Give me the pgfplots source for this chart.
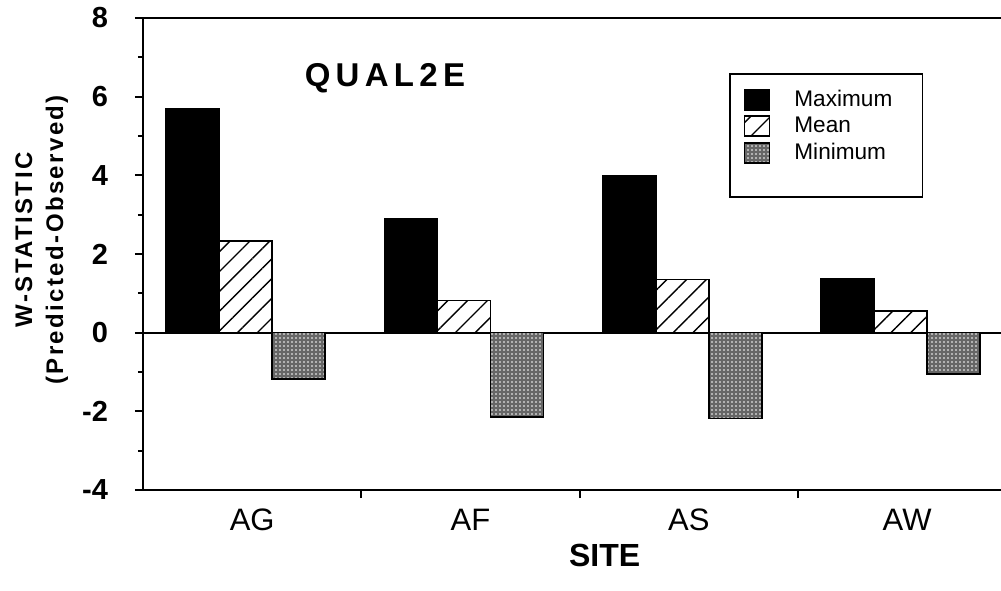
\documentclass[border=0pt]{standalone}
\usepackage{fontspec}
\setmainfont{Liberation Sans}
\usepackage{pgfplots}
\pgfplotsset{compat=1.18}
\usetikzlibrary{patterns,patterns.meta}

% site position, maximum, mean, minimum
\pgfplotstableread{
x    mx    mean  mn
0.47 5.70  2.33  -1.18
1.47 2.90  0.82  -2.15
2.47 4.00  1.35  -2.18
3.47 1.38  0.55  -1.05
}\wstat

\begin{document}
\begin{tikzpicture}
\begin{axis}[
    name=ax,
    scale only axis,
    width=429pt, height=236pt,
    xmin=0, xmax=3.93,
    ymin=-4, ymax=8,
    clip=false,
    ybar=0pt, bar width=26.5pt,
    axis x line=box, axis y line=left,
    axis line style={-, line width=1.1pt},
    tick align=outside,
    tick style={black, line width=0.9pt},
    major tick length=4pt, minor tick length=2.5pt,
    xtick pos=left,
    xtick={1,2,3}, xticklabels={},
    extra x ticks={0.5,1.5,2.5,3.5},
    extra x tick labels={AG,AF,AS,AW},
    extra x tick style={major tick length=0pt},
    xticklabel style={font=\fontsize{15.5}{17}\selectfont, yshift=-6pt},
    ytick={-4,-2,0,2,4,6,8},
    minor y tick num=1,
    yticklabel style={font=\bfseries\fontsize{14.5}{16}\selectfont, xshift=-10pt},
    /pgf/number format/assume math mode=true,
    extra y ticks={0}, extra y tick labels={},
    extra y tick style={grid=major, major grid style={black, line width=1.1pt}, major tick length=0pt},
    xlabel={SITE},
    xlabel style={at={(axis description cs:0.538,-0.138)}, anchor=center, font=\bfseries\fontsize{16}{18}\selectfont},
    ylabel={W-STATISTIC\\(Predicted-Observed)},
    ylabel style={at={(axis description cs:-0.118,0.53)}, anchor=center, rotate=0, align=center,
        font=\bfseries\fontsize{12}{15.5}\selectfont\addfontfeatures{LetterSpace=10}},
    legend cell align=left,
    legend image code/.code={\draw[#1, line width=0.8pt] (0pt,-5pt) rectangle (12.5pt,5pt);},
    legend style={at={(0.683,0.883)}, anchor=north west, draw=black, line width=0.8pt,
        font=\fontsize{11.3}{13}\selectfont, row sep=-0.2pt, inner xsep=7pt, inner ysep=6pt,
        /tikz/every odd column/.append style={column sep=10pt}},
]
\addplot[draw=black, fill=black, line width=0.8pt] table[x=x, y=mx] {\wstat};
\addlegendentry{Maximum\hspace*{6pt}}
\addplot[draw=black, fill=white, line width=0.8pt,
    postaction={pattern={Lines[angle=45, distance=7pt, line width=0.7pt]}}] table[x=x, y=mean] {\wstat};
\addlegendentry{Mean}
\addplot[draw=black, fill=black!60, line width=0.8pt,
    postaction={pattern={Dots[distance=2pt, radius=0.45pt]}, pattern color=white}] table[x=x, y=mn] {\wstat};
\addlegendentry{Minimum}
\addlegendimage{empty legend}
\addlegendentry{\rule{0pt}{4pt}}
\node[font=\bfseries\fontsize{16.5}{18}\selectfont\addfontfeatures{LetterSpace=16}] at (rel axis cs:0.282,0.873) {QUAL2E};
\end{axis}
\pgfresetboundingbox
\useasboundingbox ([xshift=-71.5pt, yshift=-50pt]ax.south west) rectangle ([yshift=9pt]ax.north east);
\end{tikzpicture}
\end{document}
